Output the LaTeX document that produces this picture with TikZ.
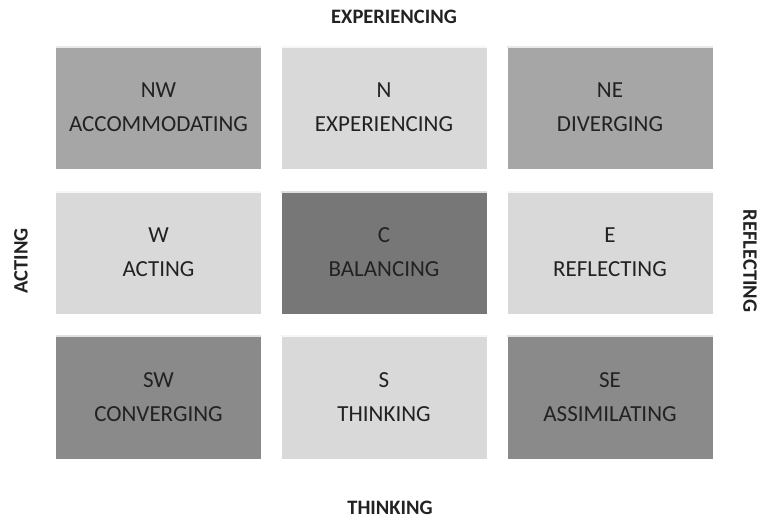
\documentclass[tikz,border=0pt]{standalone}
\usepackage{fontspec}
\setmainfont{Carlito}
\definecolor{cellpale}{HTML}{D9D9D9}
\definecolor{cellmid}{HTML}{A6A6A6}
\definecolor{celldeep}{HTML}{8A8A8A}
\definecolor{cellcore}{HTML}{777777}
\definecolor{inktext}{HTML}{222222}
\tikzset{
  cell/.style={rectangle,minimum width=205pt,minimum height=123pt,inner sep=0pt,
    align=center,text=inktext,font=\fontsize{23}{34}\selectfont},
  axislabel/.style={font=\fontsize{20.5}{22}\selectfont\bfseries,text=inktext,inner sep=0pt}
}

\begin{document}
\begin{tikzpicture}[x=1pt,y=-1pt]
        \useasboundingbox (0,0) rectangle (760,520);
        % the nine cells
        \foreach \n/\x/\y/\col/\texto in {nw/158.5/107.5/cellmid/{NW\\ACCOMMODATING},
            n/384/107.5/cellpale/{N\\EXPERIENCING},ne/610/107.5/cellmid/{NE\\DIVERGING},
            w/158.5/252.5/cellpale/{W\\ACTING},c/384/252.5/cellcore/{C\\BALANCING},
            e/610/252.5/cellpale/{E\\REFLECTING},sw/158.5/397/celldeep/{SW\\CONVERGING},
            s/384/397/cellpale/{S\\THINKING},se/610/397/celldeep/{SE\\ASSIMILATING}}
        {
          \node[cell,fill=\col] (\n) at (\x,\y) {\texto};
          % light rim on top of each cell
          \draw[white!75!\col,line width=2pt]
            ([yshift=-1pt]\n.north west) -- ([yshift=-1pt]\n.north east);
        }
        % labels round the grid
        \node[axislabel] (top) at (394,17) {EXPERIENCING};
        \node[axislabel] (bottom) at (390,508) {THINKING};
        \node[axislabel,rotate=90] (left) at (21,261) {ACTING};
        \node[axislabel,rotate=-90] (right) at (750,261) {REFLECTING};
    \end{tikzpicture}
\end{document}
